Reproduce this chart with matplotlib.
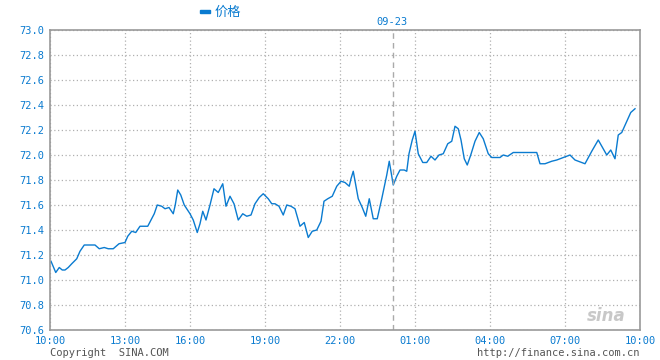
import matplotlib
matplotlib.use("Agg")
import matplotlib.pyplot as plt
from matplotlib.patches import Rectangle

# hours after 10:00 (chart time axis) and price
hours = [0.04, 0.23, 0.37, 0.49, 0.6, 0.73, 0.87, 1.07, 1.2, 1.37, 1.8, 1.97, 2.17, 2.33,
         2.53, 2.76, 3.0, 3.11, 3.27, 3.43, 3.6, 3.91, 4.04, 4.17, 4.29, 4.47, 4.6, 4.76,
         4.93, 5.01, 5.11, 5.23, 5.37, 5.6, 5.73, 5.89, 6.0, 6.11, 6.24, 6.4, 6.56, 6.73,
         6.91, 7.04, 7.2, 7.36, 7.53, 7.71, 7.87, 8.04, 8.2, 8.37, 8.53, 8.73, 8.87, 9.0,
         9.16, 9.33, 9.47, 9.64, 9.8, 10.0, 10.17, 10.33, 10.49, 10.67, 10.84, 10.96, 11.11,
         11.29, 11.47, 11.64, 11.8, 11.97, 12.04, 12.13, 12.33, 12.49, 12.63, 12.77, 12.93,
         13.09, 13.27, 13.47, 13.57, 13.73, 13.87, 14.0, 14.17, 14.27, 14.36, 14.49, 14.6,
         14.73, 14.91, 15.07, 15.24, 15.4, 15.56, 15.73, 15.91, 16.07, 16.2, 16.33, 16.44,
         16.57, 16.69, 16.83, 17.0, 17.17, 17.33, 17.53, 17.67, 18.0, 18.13, 18.31, 18.53,
         19.47, 19.6, 19.8, 20.07, 20.27, 20.67, 20.8, 21.0, 21.4, 21.67, 21.93, 22.27,
         22.43, 22.6, 22.73, 22.87, 23.07, 23.23, 23.4]
price = [71.15, 71.06, 71.10, 71.08, 71.08, 71.10, 71.13, 71.17, 71.23, 71.28, 71.28, 71.25,
         71.26, 71.25, 71.25, 71.29, 71.30, 71.35, 71.39, 71.38, 71.43, 71.43, 71.48, 71.53,
         71.60, 71.59, 71.57, 71.58, 71.53, 71.60, 71.72, 71.68, 71.60, 71.53, 71.48, 71.38,
         71.45, 71.55, 71.48, 71.60, 71.73, 71.70, 71.77, 71.59, 71.67, 71.61, 71.48, 71.53,
         71.51, 71.52, 71.61, 71.66, 71.69, 71.65, 71.61, 71.61, 71.59, 71.52, 71.60, 71.59,
         71.57, 71.43, 71.46, 71.34, 71.39, 71.40, 71.47, 71.63, 71.65, 71.67, 71.75, 71.79,
         71.78, 71.75, 71.81, 71.87, 71.65, 71.58, 71.51, 71.65, 71.49, 71.49, 71.65, 71.84,
         71.95, 71.76, 71.83, 71.88, 71.88, 71.87, 72.01, 72.12, 72.19, 72.01, 71.94, 71.94,
         71.99, 71.96, 72.00, 72.01, 72.09, 72.11, 72.23, 72.21, 72.12, 71.97, 71.92, 72.00,
         72.11, 72.18, 72.13, 72.01, 71.98, 71.98, 72.00, 71.99, 72.02, 72.02, 71.93, 71.93,
         71.95, 71.96, 71.99, 72.00, 71.96, 71.93, 72.03, 72.12, 72.00, 72.04, 71.97, 72.16,
         72.18, 72.27, 72.34, 72.37]

tick_pos = [0, 3, 5.6, 8.6, 11.6, 14.6, 17.6, 20.6, 23.6]
tick_lab = ["10:00", "13:00", "16:00", "19:00", "22:00", "01:00", "04:00", "07:00", "10:00"]
y_ticks = [70.6, 70.8, 71.0, 71.2, 71.4, 71.6, 71.8, 72.0, 72.2, 72.4, 72.6, 72.8, 73.0]
day_break = 13.73

blue = "#0a7bd0"
mono = "DejaVu Sans Mono"

fig = plt.figure(figsize=(6.6, 3.6), dpi=100)
ax = fig.add_axes([50 / 660, 30 / 360, 590 / 660, 300 / 360])

ax.plot(hours, price, color=blue, lw=1.0)
ax.axvline(day_break, color="#aaaaaa", lw=1, ls=(0, (4, 3)))

ax.set_xlim(0, 23.6)
ax.set_ylim(70.6, 73.0)
ax.set_xticks(tick_pos)
ax.set_xticklabels(tick_lab)
ax.set_yticks(y_ticks)
ax.set_yticklabels(["%.1f" % v for v in y_ticks])
ax.grid(True, color="#b0b0b0", ls=(0, (1, 2)), lw=0.9)
ax.tick_params(length=0, pad=4, labelsize=7.5, labelcolor=blue)
for lab in ax.get_xticklabels() + ax.get_yticklabels():
    lab.set_family(mono)
for s in ax.spines.values():
    s.set_color("#999999")
    s.set_linewidth(1.2)

# legend and date label
fig.patches.append(Rectangle((200 / 660, 1 - 13 / 360), 10 / 660, 3 / 360,
                             transform=fig.transFigure, color=blue))
fig.text(215 / 660, 1 - 12 / 360, "价格", color=blue, fontsize=9.5, va="center",
         family=["Noto Sans CJK SC", "DejaVu Sans"])
fig.text(392 / 660, 1 - 22 / 360, "09-23", color=blue, fontsize=7.5, ha="center",
         va="center", family=mono)

# footer
fig.text(50 / 660, 1 - 353 / 360, "Copyright  SINA.COM", color="#555555", fontsize=7.5,
         va="center", family=mono)
fig.text(640 / 660, 1 - 353 / 360, "http://finance.sina.com.cn", color="#555555",
         fontsize=7.5, ha="right", va="center", family=mono)
fig.text(626 / 660, 1 - 316 / 360, "sina", color="#bbbbbb", fontsize=12, style="italic",
         fontweight="bold", ha="right", va="center", alpha=0.8)

fig.savefig("out.png", dpi=100)
